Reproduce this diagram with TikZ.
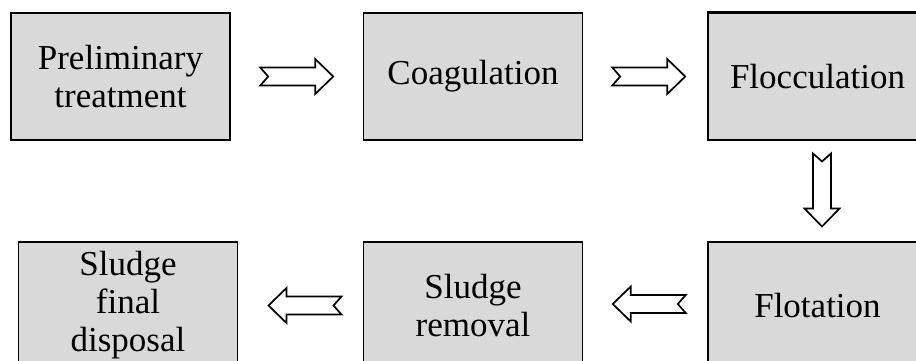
\documentclass[tikz,border=0pt]{standalone}
\usepackage{fontspec}
\setmainfont{Liberation Serif}
\usetikzlibrary{calc}
\definecolor{boxgray}{RGB}{217,217,217}
\tikzset{
  box/.style={draw=black, line width=1.5pt, fill=boxgray, minimum width=219pt,
    minimum height=127pt, inner sep=0pt, align=center,
    font=\fontsize{35}{38}\selectfont},
  blockarrow/.pic={
    \draw[line width=1.7pt, fill=white, line join=miter]
      (-36.5,-9) -- (18.5,-9) -- (18.5,-17.5) -- (36.5,0) -- (18.5,17.5)
      -- (18.5,9) -- (-36.5,9) -- (-28.5,0) -- cycle;}
}
\begin{document}
\begin{tikzpicture}[x=1pt,y=-1pt]
\useasboundingbox (0,0) rectangle (916,360);
\clip (0,0) rectangle (916,360);
\node[box] (b1) at (120.5,76.5) {Preliminary\\treatment};
\node[box] (b2) at (473,76.5) {Coagulation};
\node[box] (b3) at (817.5,76.5) {Flocculation};
\draw[line width=3.5pt] (b3.north west) -- (b3.north east);
\node[box] (b4) at (128,305.5) {Sludge\\final\\disposal};
\node[box] (b5) at (473,305.5) {Sludge\\removal};
\node[box] (b6) at (817.5,305.5) {Flotation};
\pic at ($(b1.east)!0.5!(b2.west)$) {blockarrow};
\pic at ($(b2.east)!0.5!(b3.west)+(3.5,0)$) {blockarrow};
\pic[rotate=-90] at ($(b3.south)!0.5!(b6.north)+(4.5,-1)$) {blockarrow};
\pic[rotate=180] at ($(b6.west)!0.5!(b5.east)+(4,-1.5)$) {blockarrow};
\pic[rotate=180] at ($(b5.west)!0.5!(b4.east)+(4.5,0)$) {blockarrow};
\end{tikzpicture}
\end{document}
